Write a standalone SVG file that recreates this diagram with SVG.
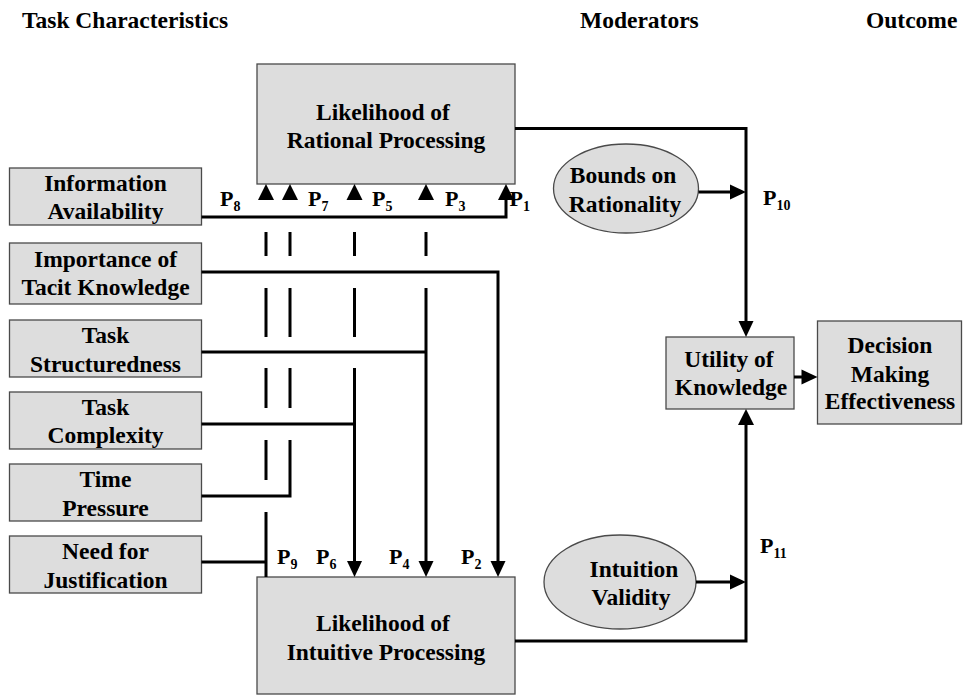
<svg xmlns="http://www.w3.org/2000/svg" xmlns:xlink="http://www.w3.org/1999/xlink" width="968" height="697" viewBox="0 0 968 697">
<style>
.box{fill:#dddddd;stroke:#4a4a4a;stroke-width:1.3}
text{font-family:'Liberation Serif','Times New Roman',serif;font-weight:bold;fill:#000}
.lbl{font-size:23.5px;text-anchor:middle}
.hdr{font-size:23.5px}
.p{font-size:22px}
.sub{font-size:14px}
.ln{stroke:#000;stroke-width:3;fill:none}
.ah{fill:#000}
</style>
<defs>
<path id="up" d="M-8,16 L0,0 L8,16 z"/>
<path id="dn" d="M-7.5,-16 L0,0 L7.5,-16 z"/>
<path id="rt" d="M-16,-7.5 L0,0 L-16,7.5 z"/>
</defs>
<rect width="968" height="697" fill="#fff"/>
<g id="headers">
<text class="hdr" x="22" y="28">Task Characteristics</text>
<text class="hdr" x="580" y="28">Moderators</text>
<text class="hdr" x="866" y="28">Outcome</text>
</g>
<g id="node-rational">
<rect class="box" x="257" y="64" width="258" height="120"/>
<text class="lbl" x="383" y="120">Likelihood of</text>
<text class="lbl" x="386" y="148">Rational Processing</text>
</g>
<g id="node-intuitive">
<rect class="box" x="257" y="577" width="258" height="117"/>
<text class="lbl" x="383" y="631">Likelihood of</text>
<text class="lbl" x="386" y="660">Intuitive Processing</text>
</g>
<g id="node-info">
<rect class="box" x="9.5" y="168" width="192" height="57"/>
<text class="lbl" x="105.5" y="191">Information</text>
<text class="lbl" x="105.5" y="219">Availability</text>
</g>
<g id="node-tacit">
<rect class="box" x="9.5" y="243" width="192" height="61"/>
<text class="lbl" x="105.5" y="267">Importance of</text>
<text class="lbl" x="105.5" y="295">Tacit Knowledge</text>
</g>
<g id="node-struct">
<rect class="box" x="9.5" y="320" width="192" height="57"/>
<text class="lbl" x="105.5" y="343">Task</text>
<text class="lbl" x="105.5" y="372">Structuredness</text>
</g>
<g id="node-complex">
<rect class="box" x="9.5" y="392" width="192" height="57"/>
<text class="lbl" x="105.5" y="415">Task</text>
<text class="lbl" x="105.5" y="443">Complexity</text>
</g>
<g id="node-time">
<rect class="box" x="9.5" y="464" width="192" height="57"/>
<text class="lbl" x="105.5" y="487">Time</text>
<text class="lbl" x="105.5" y="516">Pressure</text>
</g>
<g id="node-justif">
<rect class="box" x="9.5" y="536" width="192" height="57"/>
<text class="lbl" x="105.5" y="559">Need for</text>
<text class="lbl" x="105.5" y="588">Justification</text>
</g>
<g id="node-bounds">
<ellipse class="box" cx="626" cy="188.5" rx="72.5" ry="44.5"/>
<text class="lbl" x="623" y="183">Bounds on</text>
<text class="lbl" x="625" y="212">Rationality</text>
</g>
<g id="node-validity">
<ellipse class="box" cx="620" cy="582" rx="76" ry="47"/>
<text class="lbl" x="634" y="577">Intuition</text>
<text class="lbl" x="631" y="605">Validity</text>
</g>
<g id="node-utility">
<rect class="box" x="666" y="337" width="128" height="72"/>
<text class="lbl" x="729" y="367">Utility of</text>
<text class="lbl" x="731" y="395">Knowledge</text>
</g>
<g id="node-decision">
<rect class="box" x="817.5" y="321" width="144" height="103"/>
<text class="lbl" x="890" y="353">Decision</text>
<text class="lbl" x="890" y="382">Making</text>
<text class="lbl" x="890" y="409">Effectiveness</text>
</g>
<g id="connectors">
<path class="ln" d="M515,128.5 H746 V322"/>
<use class="ah" href="#dn" xlink:href="#dn" x="746" y="337"/>
<path class="ln" d="M515,641 H746 V424"/>
<use class="ah" href="#up" xlink:href="#up" x="746" y="409"/>
<path class="ln" d="M794,377 H802"/>
<use class="ah" href="#rt" xlink:href="#rt" x="817.5" y="377"/>
<path class="ln" d="M698.5,192 H731"/>
<use class="ah" href="#rt" xlink:href="#rt" x="746" y="192"/>
<path class="ln" d="M696,582 H731"/>
<use class="ah" href="#rt" xlink:href="#rt" x="746" y="582"/>
<path class="ln" d="M201.5,217 H506 V199"/>
<use class="ah" href="#up" xlink:href="#up" x="506" y="184"/>
<path class="ln" d="M201.5,272 H498 V562"/>
<use class="ah" href="#dn" xlink:href="#dn" x="498" y="577"/>
<path class="ln" d="M201.5,352 H426"/>
<path class="ln" d="M426,288 V562 M426,232 V256"/>
<use class="ah" href="#up" xlink:href="#up" x="426" y="184"/>
<use class="ah" href="#dn" xlink:href="#dn" x="426" y="577"/>
<path class="ln" d="M201.5,424 H354.5"/>
<path class="ln" d="M354.5,368 V562 M354.5,288 V337 M354.5,232 V256"/>
<use class="ah" href="#up" xlink:href="#up" x="354.5" y="184"/>
<use class="ah" href="#dn" xlink:href="#dn" x="354.5" y="577"/>
<path class="ln" d="M201.5,496 H290 V440"/>
<path class="ln" d="M290,368 V408 M290,288 V337 M290,232 V256"/>
<use class="ah" href="#up" xlink:href="#up" x="290" y="184"/>
<path class="ln" d="M201.5,562 H266"/>
<path class="ln" d="M266,512 V577 M266,440 V480 M266,368 V408 M266,288 V337 M266,232 V256"/>
<use class="ah" href="#up" xlink:href="#up" x="266" y="184"/>
</g>
<g id="labels">
<text class="p" x="220" y="206">P<tspan class="sub" dy="5">8</tspan></text>
<text class="p" x="308" y="206">P<tspan class="sub" dy="5">7</tspan></text>
<text class="p" x="372" y="206">P<tspan class="sub" dy="5">5</tspan></text>
<text class="p" x="445" y="206">P<tspan class="sub" dy="5">3</tspan></text>
<text class="p" x="509.5" y="206">P<tspan class="sub" dy="5">1</tspan></text>
<text class="p" x="277" y="564">P<tspan class="sub" dy="5">9</tspan></text>
<text class="p" x="316" y="564">P<tspan class="sub" dy="5">6</tspan></text>
<text class="p" x="389" y="564">P<tspan class="sub" dy="5">4</tspan></text>
<text class="p" x="461" y="564">P<tspan class="sub" dy="5">2</tspan></text>
<text class="p" x="763" y="205">P<tspan class="sub" dy="5">10</tspan></text>
<text class="p" x="760" y="553">P<tspan class="sub" dy="5">11</tspan></text>
</g>
</svg>
